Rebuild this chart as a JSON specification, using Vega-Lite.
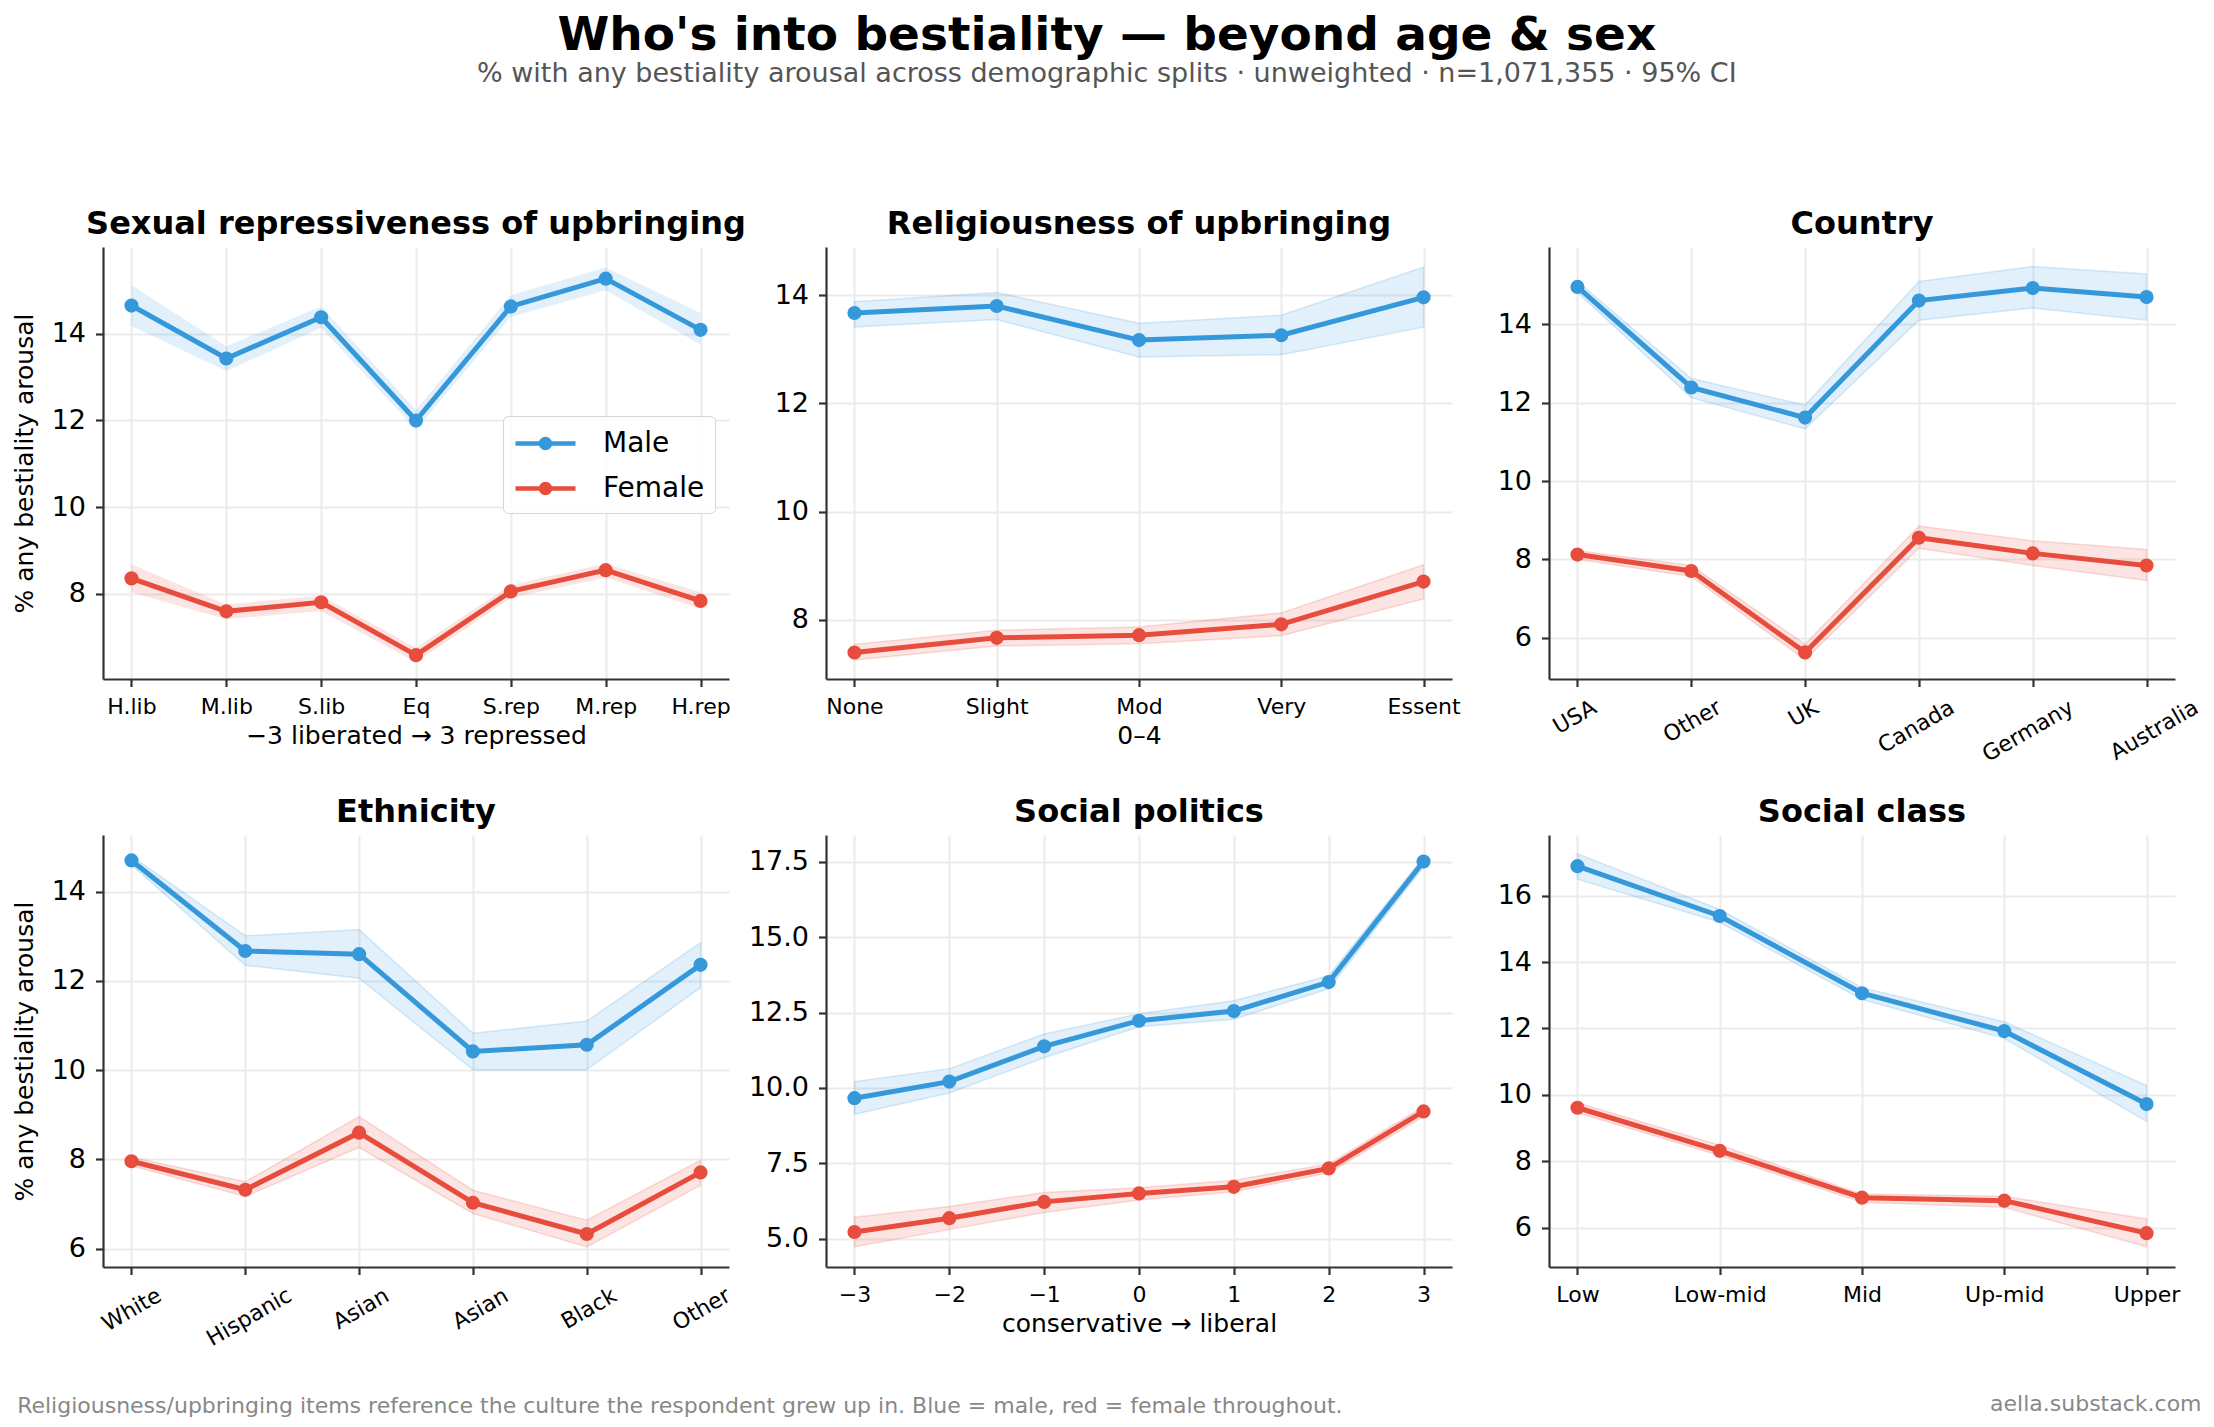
{
"$schema": "https://vega.github.io/schema/vega-lite/v6.json",
"padding": {"left": 12, "right": 12, "top": 12, "bottom": 4},
"background": "white",
"title": {"text": "Who's into bestiality — beyond age & sex", "subtitle": "% with any bestiality arousal across demographic splits · unweighted · n=1,071,355 · 95% CI", "anchor": "middle", "fontSize": 47, "fontWeight": "bold", "color": "#000", "subtitleFontSize": 27, "subtitleColor": "#555", "subtitleFont": "DejaVu Sans", "subtitlePadding": 1, "offset": 120},
"data": {"values": [
{"p":"rep","cat":"H.lib","ord":0,"sex":"Male","pct":14.65,"lo":14.18,"hi":15.12},
{"p":"rep","cat":"M.lib","ord":1,"sex":"Male","pct":13.43,"lo":13.14,"hi":13.71},
{"p":"rep","cat":"S.lib","ord":2,"sex":"Male","pct":14.38,"lo":14.14,"hi":14.63},
{"p":"rep","cat":"Eq","ord":3,"sex":"Male","pct":12.0,"lo":11.79,"hi":12.24},
{"p":"rep","cat":"S.rep","ord":4,"sex":"Male","pct":14.63,"lo":14.39,"hi":14.89},
{"p":"rep","cat":"M.rep","ord":5,"sex":"Male","pct":15.27,"lo":15.0,"hi":15.53},
{"p":"rep","cat":"H.rep","ord":6,"sex":"Male","pct":14.09,"lo":13.75,"hi":14.48},
{"p":"rep","cat":"H.lib","ord":0,"sex":"Female","pct":8.36,"lo":8.04,"hi":8.68},
{"p":"rep","cat":"M.lib","ord":1,"sex":"Female","pct":7.6,"lo":7.42,"hi":7.76},
{"p":"rep","cat":"S.lib","ord":2,"sex":"Female","pct":7.81,"lo":7.61,"hi":7.96},
{"p":"rep","cat":"Eq","ord":3,"sex":"Female","pct":6.59,"lo":6.42,"hi":6.76},
{"p":"rep","cat":"S.rep","ord":4,"sex":"Female","pct":8.06,"lo":7.91,"hi":8.21},
{"p":"rep","cat":"M.rep","ord":5,"sex":"Female","pct":8.55,"lo":8.38,"hi":8.7},
{"p":"rep","cat":"H.rep","ord":6,"sex":"Female","pct":7.84,"lo":7.66,"hi":8.04},
{"p":"rel","cat":"None","ord":0,"sex":"Male","pct":13.67,"lo":13.41,"hi":13.88},
{"p":"rel","cat":"Slight","ord":1,"sex":"Male","pct":13.8,"lo":13.55,"hi":14.05},
{"p":"rel","cat":"Mod","ord":2,"sex":"Male","pct":13.17,"lo":12.86,"hi":13.48},
{"p":"rel","cat":"Very","ord":3,"sex":"Male","pct":13.26,"lo":12.9,"hi":13.63},
{"p":"rel","cat":"Essent","ord":4,"sex":"Male","pct":13.96,"lo":13.41,"hi":14.52},
{"p":"rel","cat":"None","ord":0,"sex":"Female","pct":7.4,"lo":7.26,"hi":7.55},
{"p":"rel","cat":"Slight","ord":1,"sex":"Female","pct":7.67,"lo":7.52,"hi":7.81},
{"p":"rel","cat":"Mod","ord":2,"sex":"Female","pct":7.72,"lo":7.56,"hi":7.87},
{"p":"rel","cat":"Very","ord":3,"sex":"Female","pct":7.92,"lo":7.71,"hi":8.13},
{"p":"rel","cat":"Essent","ord":4,"sex":"Female","pct":8.71,"lo":8.39,"hi":9.02},
{"p":"cty","cat":"USA","ord":0,"sex":"Male","pct":14.96,"lo":14.82,"hi":15.1},
{"p":"cty","cat":"Other","ord":1,"sex":"Male","pct":12.39,"lo":12.13,"hi":12.62},
{"p":"cty","cat":"UK","ord":2,"sex":"Male","pct":11.62,"lo":11.33,"hi":11.94},
{"p":"cty","cat":"Canada","ord":3,"sex":"Male","pct":14.61,"lo":14.11,"hi":15.1},
{"p":"cty","cat":"Germany","ord":4,"sex":"Male","pct":14.93,"lo":14.42,"hi":15.48},
{"p":"cty","cat":"Australia","ord":5,"sex":"Male","pct":14.7,"lo":14.11,"hi":15.29},
{"p":"cty","cat":"USA","ord":0,"sex":"Female","pct":8.12,"lo":8.0,"hi":8.22},
{"p":"cty","cat":"Other","ord":1,"sex":"Female","pct":7.7,"lo":7.56,"hi":7.84},
{"p":"cty","cat":"UK","ord":2,"sex":"Female","pct":5.62,"lo":5.43,"hi":5.83},
{"p":"cty","cat":"Canada","ord":3,"sex":"Female","pct":8.55,"lo":8.28,"hi":8.85},
{"p":"cty","cat":"Germany","ord":4,"sex":"Female","pct":8.15,"lo":7.84,"hi":8.47},
{"p":"cty","cat":"Australia","ord":5,"sex":"Female","pct":7.84,"lo":7.46,"hi":8.25},
{"p":"eth","cat":"White","ord":0,"sex":"Male","pct":14.7,"lo":14.6,"hi":14.8},
{"p":"eth","cat":"Hispanic","ord":1,"sex":"Male","pct":12.67,"lo":12.35,"hi":13.01},
{"p":"eth","cat":"Asian","ord":2,"sex":"Male","pct":12.6,"lo":12.06,"hi":13.15},
{"p":"eth","cat":"Asian\u200b","ord":3,"sex":"Male","pct":10.42,"lo":10.01,"hi":10.83},
{"p":"eth","cat":"Black","ord":4,"sex":"Male","pct":10.57,"lo":10.01,"hi":11.1},
{"p":"eth","cat":"Other","ord":5,"sex":"Male","pct":12.36,"lo":11.85,"hi":12.86},
{"p":"eth","cat":"White","ord":0,"sex":"Female","pct":7.96,"lo":7.86,"hi":8.05},
{"p":"eth","cat":"Hispanic","ord":1,"sex":"Female","pct":7.32,"lo":7.17,"hi":7.5},
{"p":"eth","cat":"Asian","ord":2,"sex":"Female","pct":8.6,"lo":8.27,"hi":8.96},
{"p":"eth","cat":"Asian\u200b","ord":3,"sex":"Female","pct":7.03,"lo":6.79,"hi":7.31},
{"p":"eth","cat":"Black","ord":4,"sex":"Female","pct":6.33,"lo":6.04,"hi":6.64},
{"p":"eth","cat":"Other","ord":5,"sex":"Female","pct":7.71,"lo":7.42,"hi":7.98},
{"p":"pol","cat":"-3","ord":-3,"sex":"Male","pct":9.66,"lo":9.13,"hi":10.21},
{"p":"pol","cat":"-2","ord":-2,"sex":"Male","pct":10.21,"lo":9.83,"hi":10.64},
{"p":"pol","cat":"-1","ord":-1,"sex":"Male","pct":11.38,"lo":11.0,"hi":11.79},
{"p":"pol","cat":"0","ord":0,"sex":"Male","pct":12.23,"lo":12.03,"hi":12.46},
{"p":"pol","cat":"1","ord":1,"sex":"Male","pct":12.55,"lo":12.28,"hi":12.89},
{"p":"pol","cat":"2","ord":2,"sex":"Male","pct":13.51,"lo":13.29,"hi":13.72},
{"p":"pol","cat":"3","ord":3,"sex":"Male","pct":17.51,"lo":17.33,"hi":17.66},
{"p":"pol","cat":"-3","ord":-3,"sex":"Female","pct":5.22,"lo":4.73,"hi":5.71},
{"p":"pol","cat":"-2","ord":-2,"sex":"Female","pct":5.68,"lo":5.3,"hi":6.07},
{"p":"pol","cat":"-1","ord":-1,"sex":"Female","pct":6.22,"lo":5.87,"hi":6.53},
{"p":"pol","cat":"0","ord":0,"sex":"Female","pct":6.5,"lo":6.28,"hi":6.69},
{"p":"pol","cat":"1","ord":1,"sex":"Female","pct":6.72,"lo":6.56,"hi":6.94},
{"p":"pol","cat":"2","ord":2,"sex":"Female","pct":7.33,"lo":7.18,"hi":7.48},
{"p":"pol","cat":"3","ord":3,"sex":"Female","pct":9.22,"lo":9.05,"hi":9.38},
{"p":"cls","cat":"Low","ord":0,"sex":"Male","pct":16.89,"lo":16.5,"hi":17.26},
{"p":"cls","cat":"Low-mid","ord":1,"sex":"Male","pct":15.39,"lo":15.2,"hi":15.59},
{"p":"cls","cat":"Mid","ord":2,"sex":"Male","pct":13.06,"lo":12.87,"hi":13.23},
{"p":"cls","cat":"Up-mid","ord":3,"sex":"Male","pct":11.92,"lo":11.7,"hi":12.2},
{"p":"cls","cat":"Upper","ord":4,"sex":"Male","pct":9.72,"lo":9.2,"hi":10.28},
{"p":"cls","cat":"Low","ord":0,"sex":"Female","pct":9.61,"lo":9.46,"hi":9.76},
{"p":"cls","cat":"Low-mid","ord":1,"sex":"Female","pct":8.31,"lo":8.17,"hi":8.48},
{"p":"cls","cat":"Mid","ord":2,"sex":"Female","pct":6.9,"lo":6.76,"hi":7.01},
{"p":"cls","cat":"Up-mid","ord":3,"sex":"Female","pct":6.81,"lo":6.61,"hi":6.94},
{"p":"cls","cat":"Upper","ord":4,"sex":"Female","pct":5.83,"lo":5.42,"hi":6.26}
]},
"resolve": {"scale": {"color": "independent", "stroke": "independent"}, "legend": {"color": "independent", "stroke": "independent"}},
"vconcat": [{
 "title": {"text": "aella.substack.com", "orient": "bottom", "anchor": "end", "fontSize": 22, "fontWeight": "normal", "color": "#888", "offset": -23},
 "resolve": {"scale": {"color": "independent", "stroke": "independent"}, "legend": {"color": "independent", "stroke": "independent"}},
 "vconcat": [{
  "title": {"text": "Religiousness/upbringing items reference the culture the respondent grew up in. Blue = male, red = female throughout.", "orient": "bottom", "anchor": "start", "fontSize": 22, "fontWeight": "normal", "color": "#888", "offset": 46, "dx": 5},
  "columns": 3,
  "bounds": "flush",
  "spacing": {"row": 156, "column": 97},
  "resolve": {"scale": {"color": "independent", "stroke": "independent"}, "legend": {"color": "independent", "stroke": "independent"}},
  "concat": [
  {
   "title": "Sexual repressiveness of upbringing",
   "width": 626, "height": 432,
   "transform": [{"filter": "datum.p === 'rep'"}],
   "encoding": {"x": {"field": "cat", "type": "ordinal", "sort": {"field": "ord"}, "scale": {"type": "point", "padding": 0.3}, "axis": {"title": "−3 liberated → 3 repressed", "labelAngle": 0}}},
   "layer": [
    {"mark": {"type": "area", "fillOpacity": 0.15},
     "encoding": {"y": {"field": "lo", "type": "quantitative", "title": "% any bestiality arousal", "scale": {"domain": [6.04, 16.0], "nice": false, "zero": false}, "axis": {"values": [8, 10, 12, 14], "format": "d"}},
      "y2": {"field": "hi"},
      "color": {"field": "sex", "type": "nominal", "scale": {"domain": ["Male", "Female"], "range": ["#3498db", "#e74c3c"]},
       "legend": {"orient": "none", "legendX": 400, "legendY": 169, "title": null, "labelFontSize": 28, "labelFont": "DejaVu Sans", "labelColor": "#000", "labelLimit": 300,
        "symbolType": "M-1,0L3,0M1.3,0A0.3,0.3,0,1,1,0.7,0A0.3,0.3,0,1,1,1.3,0Z", "symbolSize": 900, "symbolStrokeWidth": 4.5,
        "strokeColor": "#d5d5d5", "fillColor": "rgba(255,255,255,0.85)", "cornerRadius": 5, "padding": 10, "rowPadding": 13, "labelOffset": 55,
        "encode": {"symbols": {"update": {"fill": {"signal": "datum.value === 'Male' ? '#3498db' : '#e74c3c'"}, "stroke": {"signal": "datum.value === 'Male' ? '#3498db' : '#e74c3c'"}, "opacity": {"value": 1}, "fillOpacity": {"value": 1}, "strokeOpacity": {"value": 1}}}}}}}},
    {"mark": {"type": "line", "strokeWidth": 5},
     "encoding": {"y": {"field": "pct", "type": "quantitative", "title": "% any bestiality arousal"},
      "color": {"field": "sex", "type": "nominal", "scale": {"domain": ["Male", "Female"], "range": ["#3498db", "#e74c3c"]},
       "legend": {"orient": "none", "legendX": 400, "legendY": 169, "title": null, "labelFontSize": 28, "labelFont": "DejaVu Sans", "labelColor": "#000", "labelLimit": 300,
        "symbolType": "M-1,0L3,0M1.3,0A0.3,0.3,0,1,1,0.7,0A0.3,0.3,0,1,1,1.3,0Z", "symbolSize": 900, "symbolStrokeWidth": 4.5,
        "strokeColor": "#d5d5d5", "fillColor": "rgba(255,255,255,0.85)", "cornerRadius": 5, "padding": 10, "rowPadding": 13, "labelOffset": 55,
        "encode": {"symbols": {"update": {"fill": {"signal": "datum.value === 'Male' ? '#3498db' : '#e74c3c'"}, "stroke": {"signal": "datum.value === 'Male' ? '#3498db' : '#e74c3c'"}, "opacity": {"value": 1}, "fillOpacity": {"value": 1}, "strokeOpacity": {"value": 1}}}}}}}},
    {"mark": {"type": "circle", "size": 200, "opacity": 1},
     "encoding": {"y": {"field": "pct", "type": "quantitative", "title": "% any bestiality arousal"},
      "color": {"field": "sex", "type": "nominal", "scale": {"domain": ["Male", "Female"], "range": ["#3498db", "#e74c3c"]},
       "legend": {"orient": "none", "legendX": 400, "legendY": 169, "title": null, "labelFontSize": 28, "labelFont": "DejaVu Sans", "labelColor": "#000", "labelLimit": 300,
        "symbolType": "M-1,0L3,0M1.3,0A0.3,0.3,0,1,1,0.7,0A0.3,0.3,0,1,1,1.3,0Z", "symbolSize": 900, "symbolStrokeWidth": 4.5,
        "strokeColor": "#d5d5d5", "fillColor": "rgba(255,255,255,0.85)", "cornerRadius": 5, "padding": 10, "rowPadding": 13, "labelOffset": 55,
        "encode": {"symbols": {"update": {"fill": {"signal": "datum.value === 'Male' ? '#3498db' : '#e74c3c'"}, "stroke": {"signal": "datum.value === 'Male' ? '#3498db' : '#e74c3c'"}, "opacity": {"value": 1}, "fillOpacity": {"value": 1}, "strokeOpacity": {"value": 1}}}}}}}}
   ]
  },
  {
   "title": "Religiousness of upbringing",
   "width": 626, "height": 432,
   "transform": [{"filter": "datum.p === 'rel'"}],
   "encoding": {"x": {"field": "cat", "type": "ordinal", "sort": {"field": "ord"}, "scale": {"type": "point", "padding": 0.2}, "axis": {"title": "0–4", "labelAngle": 0}}},
   "layer": [
    {"mark": {"type": "area", "fillOpacity": 0.15, "strokeOpacity": 0.18, "strokeWidth": 1.5},
     "encoding": {"y": {"field": "lo", "type": "quantitative", "title": null, "scale": {"domain": [6.91, 14.89], "nice": false, "zero": false}, "axis": {"values": [8, 10, 12, 14], "format": "d"}},
      "y2": {"field": "hi"},
      "color": {"field": "sex", "type": "nominal", "scale": {"domain": ["Male", "Female"], "range": ["#3498db", "#e74c3c"]}, "legend": null},
      "stroke": {"field": "sex", "type": "nominal", "scale": {"domain": ["Male", "Female"], "range": ["#3498db", "#e74c3c"]}, "legend": null}}},
    {"mark": {"type": "line", "strokeWidth": 5},
     "encoding": {"y": {"field": "pct", "type": "quantitative", "title": null},
      "color": {"field": "sex", "type": "nominal", "scale": {"domain": ["Male", "Female"], "range": ["#3498db", "#e74c3c"]}, "legend": null}}},
    {"mark": {"type": "circle", "size": 200, "opacity": 1},
     "encoding": {"y": {"field": "pct", "type": "quantitative", "title": null},
      "color": {"field": "sex", "type": "nominal", "scale": {"domain": ["Male", "Female"], "range": ["#3498db", "#e74c3c"]}, "legend": null}}}
   ]
  },
  {
   "title": "Country",
   "width": 626, "height": 432,
   "transform": [{"filter": "datum.p === 'cty'"}],
   "encoding": {"x": {"field": "cat", "type": "ordinal", "sort": {"field": "ord"}, "scale": {"type": "point", "padding": 0.25}, "axis": {"title": null, "labelAngle": -30, "labelAlign": "right", "labelBaseline": "top", "labelOffset": {"expr": "length(datum.label)*5.5-5"}}}},
   "layer": [
    {"mark": {"type": "area", "fillOpacity": 0.15, "strokeOpacity": 0.18, "strokeWidth": 1.5},
     "encoding": {"y": {"field": "lo", "type": "quantitative", "title": null, "scale": {"domain": [4.94, 15.98], "nice": false, "zero": false}, "axis": {"values": [6, 8, 10, 12, 14], "format": "d"}},
      "y2": {"field": "hi"},
      "color": {"field": "sex", "type": "nominal", "scale": {"domain": ["Male", "Female"], "range": ["#3498db", "#e74c3c"]}, "legend": null},
      "stroke": {"field": "sex", "type": "nominal", "scale": {"domain": ["Male", "Female"], "range": ["#3498db", "#e74c3c"]}, "legend": null}}},
    {"mark": {"type": "line", "strokeWidth": 5},
     "encoding": {"y": {"field": "pct", "type": "quantitative", "title": null},
      "color": {"field": "sex", "type": "nominal", "scale": {"domain": ["Male", "Female"], "range": ["#3498db", "#e74c3c"]}, "legend": null}}},
    {"mark": {"type": "circle", "size": 200, "opacity": 1},
     "encoding": {"y": {"field": "pct", "type": "quantitative", "title": null},
      "color": {"field": "sex", "type": "nominal", "scale": {"domain": ["Male", "Female"], "range": ["#3498db", "#e74c3c"]}, "legend": null}}}
   ]
  },
  {
   "title": "Ethnicity",
   "width": 626, "height": 432,
   "transform": [{"filter": "datum.p === 'eth'"}],
   "encoding": {"x": {"field": "cat", "type": "ordinal", "sort": {"field": "ord"}, "scale": {"type": "point", "padding": 0.25}, "axis": {"title": null, "labelAngle": -30, "labelAlign": "right", "labelBaseline": "top", "labelOffset": {"expr": "length(datum.label)*5.5-5"}}}},
   "layer": [
    {"mark": {"type": "area", "fillOpacity": 0.15, "strokeOpacity": 0.18, "strokeWidth": 1.5},
     "encoding": {"y": {"field": "lo", "type": "quantitative", "title": "% any bestiality arousal", "scale": {"domain": [5.59, 15.27], "nice": false, "zero": false}, "axis": {"values": [6, 8, 10, 12, 14], "format": "d"}},
      "y2": {"field": "hi"},
      "color": {"field": "sex", "type": "nominal", "scale": {"domain": ["Male", "Female"], "range": ["#3498db", "#e74c3c"]}, "legend": null},
      "stroke": {"field": "sex", "type": "nominal", "scale": {"domain": ["Male", "Female"], "range": ["#3498db", "#e74c3c"]}, "legend": null}}},
    {"mark": {"type": "line", "strokeWidth": 5},
     "encoding": {"y": {"field": "pct", "type": "quantitative", "title": "% any bestiality arousal"},
      "color": {"field": "sex", "type": "nominal", "scale": {"domain": ["Male", "Female"], "range": ["#3498db", "#e74c3c"]}, "legend": null}}},
    {"mark": {"type": "circle", "size": 200, "opacity": 1},
     "encoding": {"y": {"field": "pct", "type": "quantitative", "title": "% any bestiality arousal"},
      "color": {"field": "sex", "type": "nominal", "scale": {"domain": ["Male", "Female"], "range": ["#3498db", "#e74c3c"]}, "legend": null}}}
   ]
  },
  {
   "title": "Social politics",
   "width": 626, "height": 432,
   "transform": [{"filter": "datum.p === 'pol'"}],
   "encoding": {"x": {"field": "ord", "type": "quantitative", "scale": {"domain": [-3.3, 3.3], "nice": false, "zero": false}, "axis": {"title": "conservative → liberal", "values": [-3, -2, -1, 0, 1, 2, 3], "format": "d", "labelFlush": false}}},
   "layer": [
    {"mark": {"type": "area", "fillOpacity": 0.15, "strokeOpacity": 0.18, "strokeWidth": 1.5},
     "encoding": {"y": {"field": "lo", "type": "quantitative", "title": null, "scale": {"domain": [4.06, 18.39], "nice": false, "zero": false}, "axis": {"values": [5, 7.5, 10, 12.5, 15, 17.5], "format": ".1f"}},
      "y2": {"field": "hi"},
      "color": {"field": "sex", "type": "nominal", "scale": {"domain": ["Male", "Female"], "range": ["#3498db", "#e74c3c"]}, "legend": null},
      "stroke": {"field": "sex", "type": "nominal", "scale": {"domain": ["Male", "Female"], "range": ["#3498db", "#e74c3c"]}, "legend": null}}},
    {"mark": {"type": "line", "strokeWidth": 5},
     "encoding": {"y": {"field": "pct", "type": "quantitative", "title": null},
      "color": {"field": "sex", "type": "nominal", "scale": {"domain": ["Male", "Female"], "range": ["#3498db", "#e74c3c"]}, "legend": null}}},
    {"mark": {"type": "circle", "size": 200, "opacity": 1},
     "encoding": {"y": {"field": "pct", "type": "quantitative", "title": null},
      "color": {"field": "sex", "type": "nominal", "scale": {"domain": ["Male", "Female"], "range": ["#3498db", "#e74c3c"]}, "legend": null}}}
   ]
  },
  {
   "title": "Social class",
   "width": 626, "height": 432,
   "transform": [{"filter": "datum.p === 'cls'"}],
   "encoding": {"x": {"field": "cat", "type": "ordinal", "sort": {"field": "ord"}, "scale": {"type": "point", "padding": 0.2}, "axis": {"title": null, "labelAngle": 0}}},
   "layer": [
    {"mark": {"type": "area", "fillOpacity": 0.15, "strokeOpacity": 0.18, "strokeWidth": 1.5},
     "encoding": {"y": {"field": "lo", "type": "quantitative", "title": null, "scale": {"domain": [4.81, 17.83], "nice": false, "zero": false}, "axis": {"values": [6, 8, 10, 12, 14, 16], "format": "d"}},
      "y2": {"field": "hi"},
      "color": {"field": "sex", "type": "nominal", "scale": {"domain": ["Male", "Female"], "range": ["#3498db", "#e74c3c"]}, "legend": null},
      "stroke": {"field": "sex", "type": "nominal", "scale": {"domain": ["Male", "Female"], "range": ["#3498db", "#e74c3c"]}, "legend": null}}},
    {"mark": {"type": "line", "strokeWidth": 5},
     "encoding": {"y": {"field": "pct", "type": "quantitative", "title": null},
      "color": {"field": "sex", "type": "nominal", "scale": {"domain": ["Male", "Female"], "range": ["#3498db", "#e74c3c"]}, "legend": null}}},
    {"mark": {"type": "circle", "size": 200, "opacity": 1},
     "encoding": {"y": {"field": "pct", "type": "quantitative", "title": null},
      "color": {"field": "sex", "type": "nominal", "scale": {"domain": ["Male", "Female"], "range": ["#3498db", "#e74c3c"]}, "legend": null}}}
   ]
  }
  ]
 }]
}],
"config": {
 "font": "DejaVu Sans",
 "view": {"stroke": null},
 "axis": {"grid": true, "gridColor": "#ebebeb", "gridWidth": 2, "domainColor": "#333", "domainWidth": 2.2, "tickColor": "#333", "tickWidth": 2.2, "tickSize": 7.5, "labelColor": "#000", "labelFont": "DejaVu Sans", "titleFont": "DejaVu Sans", "titleFontWeight": "normal", "titleColor": "#000", "titleFontSize": 25, "labelPadding": 10, "labelOverlap": false},
 "axisX": {"labelFontSize": 22, "titlePadding": 6},
 "axisY": {"labelFontSize": 27, "titlePadding": 14},
 "title": {"font": "DejaVu Sans", "fontSize": 32, "fontWeight": "bold", "color": "#000", "offset": 6},
 "legend": {"labelFont": "DejaVu Sans"}
}
}
